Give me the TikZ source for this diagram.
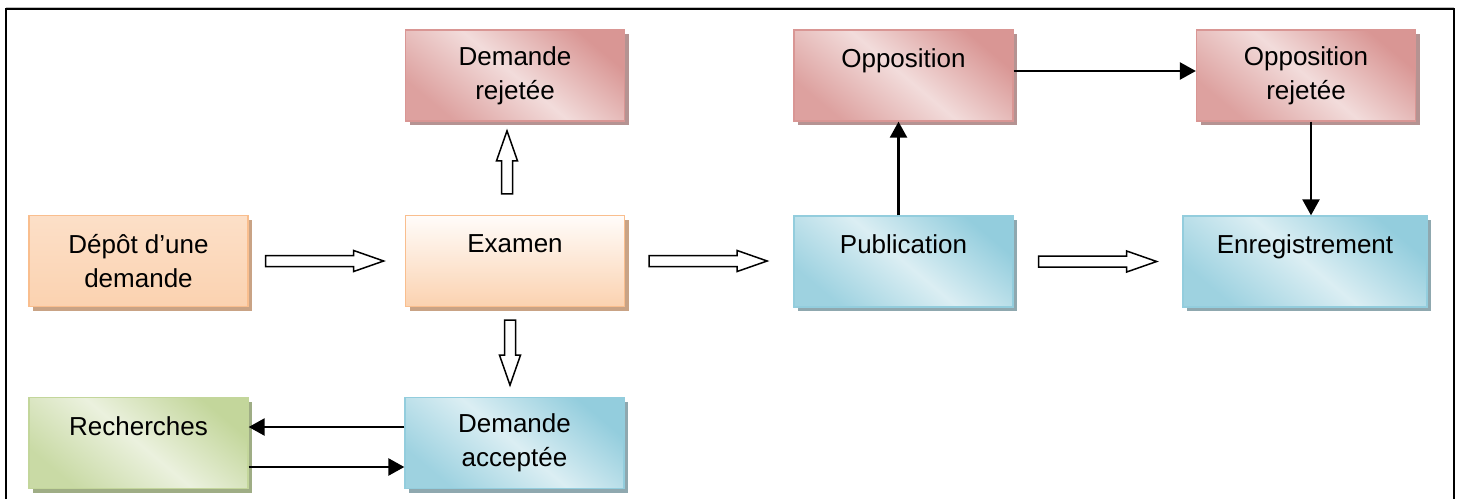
\documentclass[tikz,border=0pt]{standalone}
\usepackage{fontspec}
\setmainfont{Liberation Sans}
\usetikzlibrary{calc,arrows.meta,shadows}
\definecolor{orBorder}{HTML}{F9BE8E}
\definecolor{orDark}{HTML}{FBD2B0}
\definecolor{orLight}{HTML}{FFFCFA}
\definecolor{orShadow}{HTML}{C9A385}
\definecolor{rdBorder}{HTML}{D99694}
\definecolor{rdDark}{HTML}{D99694}
\definecolor{rdLight}{HTML}{F2DCDB}
\definecolor{rdShadow}{HTML}{B59392}
\definecolor{blBorder}{HTML}{93CDDD}
\definecolor{blDark}{HTML}{93CDDD}
\definecolor{blLight}{HTML}{DBEEF3}
\definecolor{blShadow}{HTML}{8FA8AF}
\definecolor{grBorder}{HTML}{C3D69B}
\definecolor{grDark}{HTML}{C3D69B}
\definecolor{grLight}{HTML}{EBF1DE}
\definecolor{grShadow}{HTML}{9FAD85}
\begin{document}
\begin{tikzpicture}[x=1pt,y=-1pt,
  box/.style={draw, line width=1.3pt, minimum width=219pt, minimum height=91pt,
    inner sep=0pt, align=center, font=\fontsize{26}{34}\selectfont, text=black},
  orangebox/.style={box, draw=orBorder, top color=orLight, bottom color=orDark,
    drop shadow={shadow xshift=4pt, shadow yshift=-4pt, fill=orShadow, opacity=1}},
  depotbox/.style={box, draw=orBorder, top color=orDark!70!white, bottom color=orDark,
    drop shadow={shadow xshift=4pt, shadow yshift=-4pt, fill=orShadow, opacity=1}},
  diag/.style n args={2}{top color=#1, bottom color=#1!85!#2, middle color=#2, shading angle=-40},
  redbox/.style={box, draw=rdBorder, diag={rdDark}{rdLight},
    drop shadow={shadow xshift=4pt, shadow yshift=-4pt, fill=rdShadow, opacity=1}},
  bluebox/.style={box, draw=blBorder, diag={blDark}{blLight},
    drop shadow={shadow xshift=4pt, shadow yshift=-4pt, fill=blShadow, opacity=1}},
  greenbox/.style={box, draw=grBorder, diag={grDark}{grLight},
    drop shadow={shadow xshift=4pt, shadow yshift=-4pt, fill=grShadow, opacity=1}},
  thin/.style={line width=2.5pt, -{Triangle[length=16pt,width=17pt]}},
  hollowline/.style={draw=black, fill=white, line width=1.5pt, line join=miter},
  pics/harrow/.style={code={\draw[hollowline] (0,-5.5) -- (#1-30,-5.5) -- (#1-30,-10.5) -- (#1,0) -- (#1-30,10.5) -- (#1-30,5.5) -- (0,5.5) -- cycle;}}
]
\useasboundingbox (0,0) rectangle (1460,499);
% frame
\draw[line width=1pt, gray!50] (6,7) -- (1454,7);
\draw[line width=2pt] (6,499) -- (6,9) -- (1454,9) -- (1454,499);

% boxes
\node[depotbox] (depot) at (138.5,261) {Dépôt d’une\\demande};
\node[orangebox] (examen) at (515,261) {Examen\\\mbox{}};
\node[redbox] (rejetee) at (515,75.5) {Demande\\rejetée};
\node[bluebox] (acceptee) at (514.5,443) {Demande\\acceptée};
\node[greenbox] (recherches) at (138.5,443) {Recherches\\\mbox{}};
\node[redbox] (opposition) at (903.5,75.5) {Opposition\\\mbox{}};
\node[bluebox] (publication) at (903.5,261.5) {Publication\\\mbox{}};
\node[redbox] (opprej) at (1306,75.5) {Opposition\\rejetée};
\node[bluebox, minimum width=244pt] (enreg) at (1305,261.5) {Enregistrement\\\mbox{}};

% hollow arrows
\pic at ($(depot.east)+(17,0)$) {harrow=118};
\pic at ($(examen.east)+(24,0)$) {harrow=118};
\pic at ($(publication.east)+(25,0)$) {harrow=118};
\pic[rotate=90] at ($(examen.north)+(-8,-21)$) {harrow=63};
\pic[rotate=-90] at ($(examen.south)+(-5,13)$) {harrow=65};

% thin arrows
\draw[thin] ([xshift=-5pt]publication.north) -- ([xshift=-5pt]opposition.south);
\draw[thin] ([yshift=4.5pt]opposition.east) -- ([yshift=4.5pt]opprej.west);
\draw[thin] ([xshift=5pt]opprej.south) -- ([xshift=5pt]opprej.south |- enreg.north);
\draw[thin] ([yshift=16pt]acceptee.west) -- ([yshift=16pt]acceptee.west -| recherches.east);
\draw[thin] ([yshift=-24pt]recherches.east) -- ([yshift=-24pt]recherches.east -| acceptee.west);
\end{tikzpicture}
\end{document}
